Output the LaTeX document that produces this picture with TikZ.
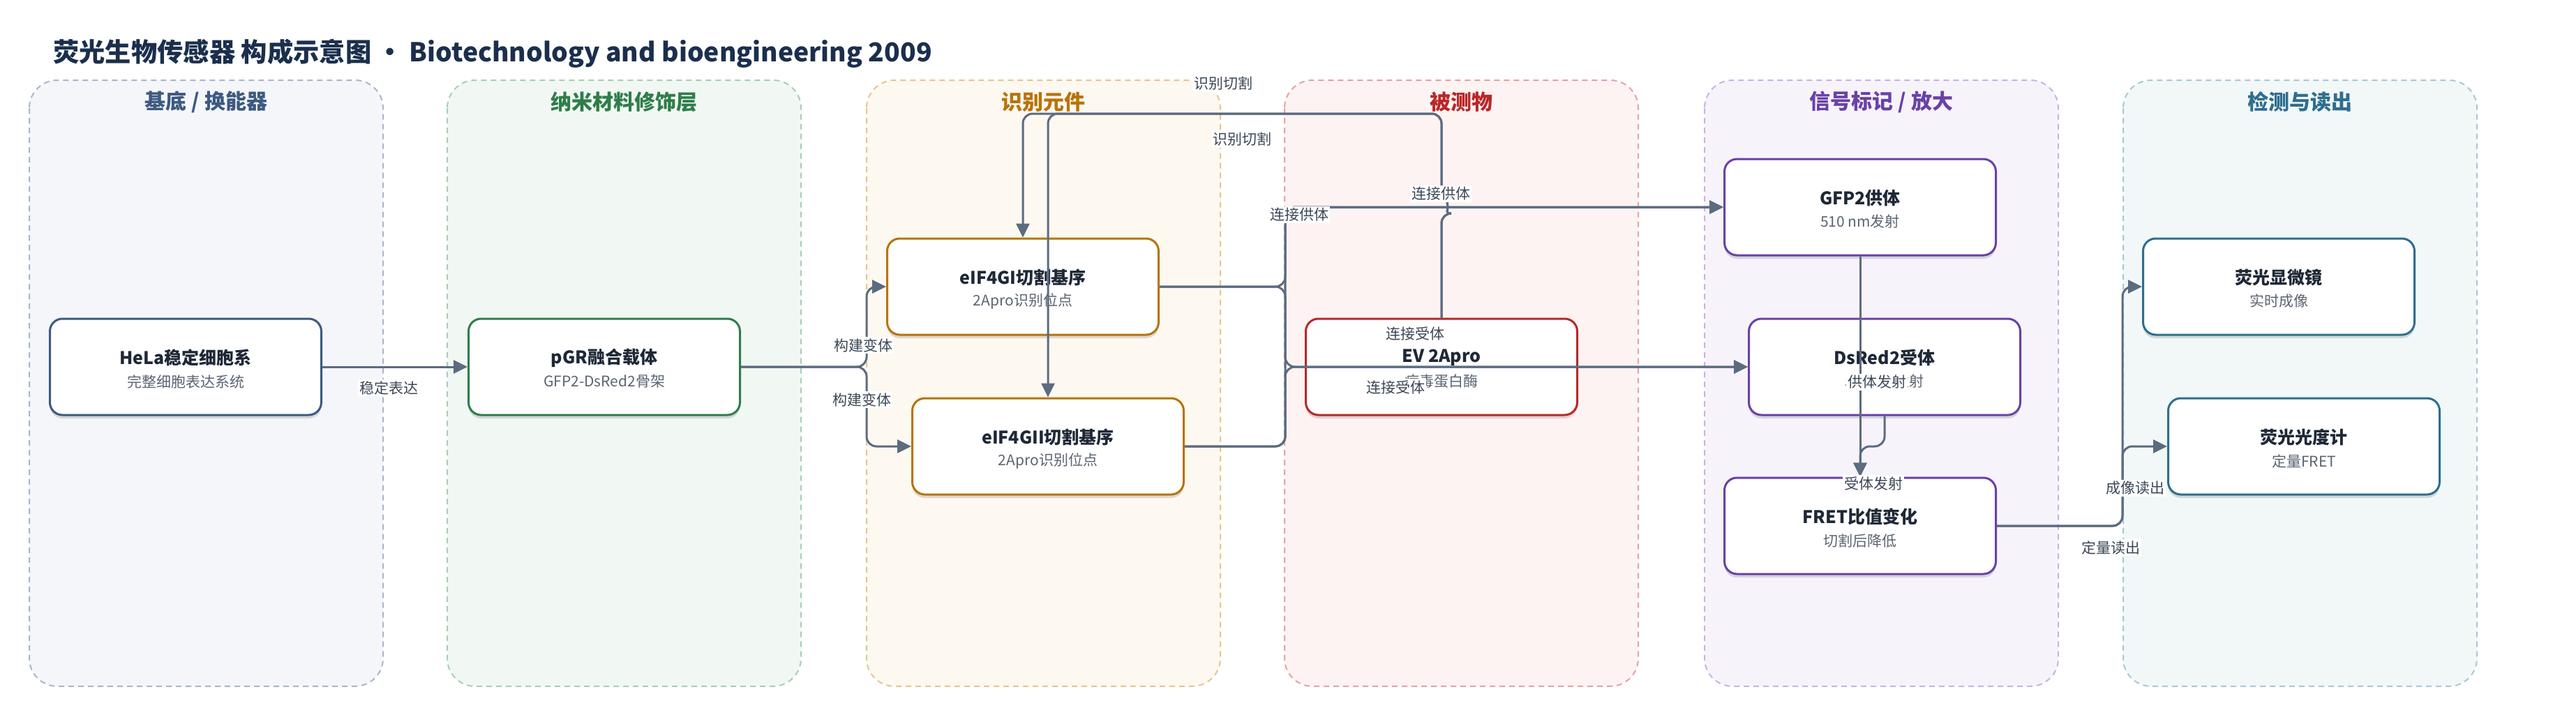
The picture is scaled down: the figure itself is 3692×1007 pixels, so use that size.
\documentclass[tikz,border=0pt]{standalone}
\usepackage{fontspec}
\setmainfont{Noto Sans CJK SC}
\usetikzlibrary{arrows.meta,shadows}
\definecolor{edgec}{HTML}{5B6B80}
\definecolor{lblc}{HTML}{3B4757}
\definecolor{titlec}{HTML}{1B2F4D}
\definecolor{ntitle}{HTML}{1E2836}
\definecolor{nsub}{HTML}{5B6472}
\definecolor{fA}{HTML}{F4F6FA}\definecolor{bA}{HTML}{A9B6CA}\definecolor{cA}{HTML}{3D5A80}
\definecolor{fB}{HTML}{F1F8F3}\definecolor{bB}{HTML}{A7CFB4}\definecolor{cB}{HTML}{2E7D4A}
\definecolor{fC}{HTML}{FDF8F0}\definecolor{bC}{HTML}{E6C58F}\definecolor{cC}{HTML}{B8730A}
\definecolor{fD}{HTML}{FDF3F2}\definecolor{bD}{HTML}{E4A3A3}\definecolor{cD}{HTML}{B82828}
\definecolor{fE}{HTML}{F7F3FB}\definecolor{bE}{HTML}{C9B3E3}\definecolor{cE}{HTML}{6A40A8}
\definecolor{fF}{HTML}{F2F7F8}\definecolor{bF}{HTML}{A9C8D6}\definecolor{cF}{HTML}{2E6E8E}
\newcommand{\mkbox}[6]{%
  \node[nodebox, draw=#4] (#1) at (#2,#3) {};
  \node[titletext] (#1-t) at (#2,#3-13) {#5};
  \node[subtext] (#1-s) at (#2,#3+21) {#6};
}
\newcommand{\mklane}[6]{%
  \draw[lanebox, fill=#4, draw=#5] (#2,115) rectangle (#2+507,984);
  \node[lanetitle, text=#6] (#1) at (#2+253.5,146) {#3};
}
\begin{document}
\begin{tikzpicture}[x=1pt,y=-1pt,
  lanebox/.style={line width=2pt, dash pattern=on 8pt off 6pt, rounded corners=40pt},
  lanetitle/.style={font=\fontsize{30pt}{36pt}\selectfont\bfseries},
  nodebox/.style={line width=3pt, rounded corners=18pt, fill=white, minimum width=389pt, minimum height=138pt, inner sep=0pt,
     drop shadow={shadow xshift=0pt, shadow yshift=-5pt, opacity=0.13, fill=black}},
  titletext/.style={font=\fontsize{25pt}{30pt}\selectfont\bfseries, text=ntitle, inner sep=0pt},
  subtext/.style={font=\fontsize{21pt}{25pt}\selectfont, text=nsub, inner sep=0pt},
  conn/.style={draw=edgec, line width=3pt, rounded corners=14pt, -{Triangle[length=20pt,width=19pt]}},
  lbl/.style={fill=white, inner sep=2pt, font=\fontsize{21pt}{25pt}\selectfont, text=lblc}]
\useasboundingbox (0,0) rectangle (3692,1007);
\fill[white] (0,0) rectangle (3692,1007);
% title
\node[anchor=west, inner sep=0pt, text=titlec, font=\fontsize{37.3pt}{44pt}\selectfont\bfseries] (title) at (76,77) {荧光生物传感器 构成示意图 · Biotechnology and bioengineering 2009};
% lanes
\mklane{laneA}{42}{基底 / 换能器}{fA}{bA}{cA}
\mklane{laneB}{641}{纳米材料修饰层}{fB}{bB}{cB}
\mklane{laneC}{1242}{识别元件}{fC}{bC}{cC}
\mklane{laneD}{1841}{被测物}{fD}{bD}{cD}
\mklane{laneE}{2443}{信号标记 / 放大}{fE}{bE}{cE}
\mklane{laneF}{3043}{检测与读出}{fF}{bF}{cF}
% nodes
\mkbox{hela}{266}{526}{cA}{HeLa稳定细胞系}{完整细胞表达系统}
\mkbox{pgr}{866}{526}{cB}{pGR融合载体}{GFP2-DsRed2骨架}
\mkbox{eifI}{1466}{411}{cC}{eIF4GI切割基序}{2Apro识别位点}
\mkbox{eifII}{1502}{640}{cC}{eIF4GII切割基序}{2Apro识别位点}
\mkbox{ev}{2066}{526}{cD}{EV 2Apro}{病毒蛋白酶}
\mkbox{gfp}{2666}{297}{cE}{GFP2供体}{510 nm发射}
\mkbox{dsred}{2701}{526}{cE}{DsRed2受体}{583 nm发射}
\mkbox{fret}{2666}{754}{cE}{FRET比值变化}{切割后降低}
\mkbox{micro}{3266}{411}{cF}{荧光显微镜}{实时成像}
\mkbox{fluoro}{3302}{640}{cF}{荧光光度计}{定量FRET}
% junction coordinates
\coordinate (jA) at (1242,526);
\coordinate (busT) at (1842,297);
\coordinate (busM) at (1842,526);
\coordinate (hopB) at (2066,306);
\coordinate (topR) at (2066,163);
\coordinate (dsj) at (2666,640);
\coordinate (busR) at (3042,754);
% connectors
\draw[conn] (hela.east) -- (pgr.west);
\draw[conn] (pgr.east) -- (jA) |- (eifI.west);
\draw[conn] (pgr.east) -- (jA) |- (eifII.west);
\draw[conn] (eifI.east) -| (busT) -- (gfp.west);
\draw[conn] (eifII.east) -| (busT) -- (gfp.west);
\draw[conn] (eifI.east) -| (busM) -- (dsred.west);
\draw[conn] (eifII.east) -| (busM) -- (dsred.west);
\draw[conn] (ev.north) -- (hopB) arc[start angle=90, end angle=-90, radius=9] -- (topR) -| (eifI.north);
\draw[conn] (ev.north) -- (hopB) arc[start angle=90, end angle=-90, radius=9] -- (topR) -| (eifII.north);
\draw[conn] (gfp.south) -- (fret.north);
\draw[conn] (dsred.south) |- (dsj) -- (fret.north);
\draw[conn] (fret.east) -- (busR) |- (micro.west);
\draw[conn] (fret.east) -- (busR) |- (fluoro.west);
% labels
\node[lbl] (l1) at (557,556) {稳定表达};
\node[lbl] (l2) at (1237,495) {构建变体};
\node[lbl] (l3) at (1235,573) {构建变体};
\node[lbl] (l4) at (1862,308) {连接供体};
\node[lbl] (l5) at (2065,278) {连接供体};
\node[lbl] (l6) at (2028,478) {连接受体};
\node[lbl] (l7) at (2000,555) {连接受体};
\node[lbl] (l8) at (1753,120) {识别切割};
\node[lbl] (l9) at (1780,200) {识别切割};
\node[lbl] (l10) at (2690,548) {供体发射};
\node[lbl] (l11) at (2685,693) {受体发射};
\node[lbl] (l12) at (3060,700) {成像读出};
\node[lbl] (l13) at (3025,785) {定量读出};
\end{tikzpicture}
\end{document}
